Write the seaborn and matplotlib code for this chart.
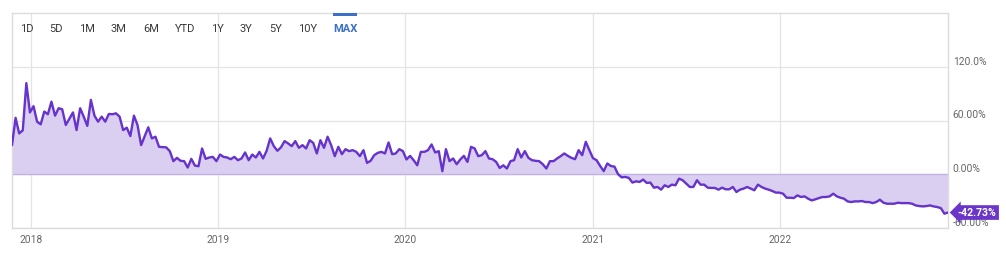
import matplotlib
matplotlib.use("Agg")
import matplotlib.pyplot as plt
import seaborn as sns
import pandas as pd

# ---------------- data ----------------
start_date = "2017-11-24"   # first weekly observation
returns_pct = [
    # late 2017 - 2018
    32.5, 63, 45.6, 49, 101.7, 69, 76, 58.7, 55.7, 70, 67, 81, 65.4, 73.7, 72.5, 55,
    62, 69, 49.3, 73.7, 64.3, 54, 83, 65.4, 58.7, 64.3, 58.7, 67.3, 67, 68, 64.3, 49.3,
    52, 42.6, 65.4, 55, 32.5, 42.6, 52.4, 40, 41.9, 30.6, 30.3, 30, 25.8,
    14.6, 18.3, 15, 14.6, 7.5, 17.2, 9.7, 9, 28.8, 17.2, 18.7, 19.4, 14.6, 22, 19.4,
    18.7, 16.8, 19.4, 15.7, 17.6, 24.3, 15.7, 22, 18.7, 25, 17.6, 26.2, 40, 31.4, 26.2,
    30, 37, 34.4, 31.4, 37, 29.5,
    # 2019 - 2020
    32.5, 28.8, 38, 35, 23.2, 38, 29.5, 41.9, 32.5, 20.2, 30.6, 22.4, 28, 25.8, 26.9,
    25, 20.2, 26.9, 12.7, 15, 21.3, 23.9, 25, 23.2, 35.5, 22.4, 23.2, 28, 25.8, 16.5,
    20.5, 15.7, 10, 25, 25, 26.9, 33.3, 24.3, 25.8, 3.4, 28, 14.6, 17.6, 11.2, 16.5,
    20.5, 13.8, 30.6, 28.8, 20.2, 21.3, 25.8, 17.6, 16.8, 13.8, 7, 10, 6.4, 14.6, 15.7,
    28, 18.7, 25.8, 18.3, 15.7, 15, 14.6, 11.2, 6.4, 14.6, 14.6, 17.6, 20.2, 23.2, 20.5,
    18.3, 16.8, 26.9, 21.3, 36.2, 26.9, 18, 15.7,
    # 2021 - 2022
    9.3, 3.5, 12, 9.2, 8.5, 0, -3.5, -3, -4.1,
    -9.3, -7.9, -8.6, -6, -9.7, -9.3, -15, -14.2, -17.2, -12.3, -14.2, -11.6, -12.3,
    -4.9, -6.7, -10.5, -14.2, -14.2, -6.7, -11.6, -11.6, -15, -15.3, -15.3, -17.2, -15,
    -16.8, -16.8, -14.2, -19.8, -17.2, -16, -14.2, -16, -17.9, -11.6, -14.2, -16, -17.2,
    -18.7, -20.5, -20.5, -21.7, -26.2, -26.2, -26.6, -23.6, -25.4, -24.7, -27.3, -29.2,
    -28, -26.6, -25.4, -25.4, -24.7, -21.7, -24.7, -26.2, -27.3, -30.3, -31, -30.3,
    -30.3, -29.9, -31, -31, -32.2, -31, -28.4, -31.8, -32.9, -32.9, -32.9, -31.8, -32.2,
    -32.2, -32.2, -32.9, -34.8, -35.5, -35.9, -35.5, -34.8, -35.9, -36.6, -37.8, -44,
    -42.73,
]
year_ticks = ["2018-01-01", "2019-01-01", "2020-01-01", "2021-01-01", "2022-01-01"]
year_labels = ["2018", "2019", "2020", "2021", "2022"]
y_ticks = [-60, 0, 60, 120]
y_tick_labels = ["-60.00%", "0.00%", "60.00%", "120.0%"]
y_limits = [-60, 180]
range_buttons = ["1D", "5D", "1M", "3M", "6M", "YTD", "1Y", "3Y", "5Y", "10Y", "MAX"]
active_button = "MAX"
last_label = "-42.73%"

# ---------------- style ----------------
sns.set_theme(style="white")
plt.rcParams["font.family"] = ["Roboto", "DejaVu Sans"]

LINE = "#6633cc"
FILL = "#dacff0"
GRID = "#e4e4e4"
TXT = "#666666"
BLUE = "#3b6fc8"

W, H = 1006, 254
dates = pd.date_range(start_date, periods=len(returns_pct), freq="7D")
df = pd.DataFrame({"date": dates, "ret": returns_pct})

fig = plt.figure(figsize=(W / 100, H / 100), dpi=100)
ax = fig.add_axes([12 / W, 26 / H, 936 / W, 215 / H])

ax.fill_between(df["date"], df["ret"], 0, color=FILL, lw=0, zorder=1)
ax.axhline(0, color="#c2b2e6", lw=1.0, zorder=1.5)
sns.lineplot(data=df, x="date", y="ret", ax=ax, color=LINE, lw=1.7, zorder=3)

ax.set_xlim(df["date"].iloc[0], df["date"].iloc[-1])
ax.set_ylim(*y_limits)
ax.set_xlabel("")
ax.set_ylabel("")

ax.set_xticks(pd.to_datetime(year_ticks))
ax.set_xticklabels(year_labels)
ax.set_yticks(y_ticks)
ax.set_yticklabels(y_tick_labels)
ax.yaxis.tick_right()
ax.tick_params(axis="y", length=0, pad=3.5, labelsize=7.4, labelcolor=TXT)
ax.tick_params(axis="x", length=0, pad=5, labelsize=7.4, labelcolor=TXT)
for lab in ax.get_yticklabels():
    lab.set_va("bottom")

ax.grid(True, color=GRID, lw=0.9, zorder=0)
ax.set_axisbelow(True)
for s in ax.spines.values():
    s.set_color("#dcdcdc")
    s.set_linewidth(1.0)

# last value tag
ax.annotate(last_label, xy=(df["date"].iloc[-1], returns_pct[-1]),
            xytext=(7, 0), textcoords="offset points", ha="left", va="center",
            color="white", fontsize=7.6, fontweight="bold",
            bbox=dict(boxstyle="larrow,pad=0.22", fc="#6a35c8", ec="none"),
            annotation_clip=False, zorder=10)

# range buttons
fig.canvas.draw()
renderer = fig.canvas.get_renderer()
x_px = 20.0
for b in range_buttons:
    active = b == active_button
    t = fig.text(x_px / W, 1 - 29 / H, b, ha="left", va="center",
                 fontsize=8, color=BLUE if active else "#3a3a3a",
                 fontweight="bold" if active else "normal")
    bb = t.get_window_extent(renderer)
    if active:
        fig.patches.append(plt.Rectangle((bb.x0 / W, 1 - 15.7 / H), bb.width / W, 2.7 / H,
                                         transform=fig.transFigure, color=BLUE, lw=0))
    x_px += bb.width + 16.0

fig.savefig("out.png", dpi=100)
